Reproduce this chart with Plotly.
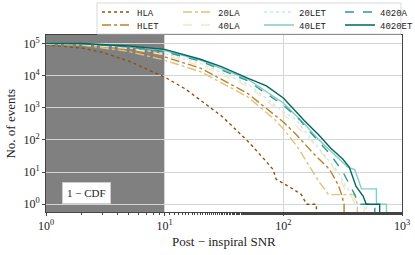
import plotly.graph_objects as go

# ---------------- data ----------------
names = ["HLA", "HLET", "20LA", "40LA", "20LET", "40LET", "4020A", "4020ET"]

hla_snr = [1, 2, 3, 5, 7, 10, 15, 20, 30, 35, 52, 72, 82, 87, 106, 120, 142, 157, 190, 190]
hla_n = [9e4, 7.2e4, 5.2e4, 2.8e4, 1.6e4, 9e3, 3.8e3, 1.7e3, 560, 330, 80, 21, 12, 6, 4, 3, 2, 1, 1, 0.1]

hlet_snr = [1, 2, 5, 10, 20, 50, 100, 130, 178, 246, 290, 310, 325, 325]
hlet_n = [9.6e4, 9.1e4, 6.3e4, 3.8e4, 1.7e4, 2.8e3, 360, 140, 39, 12, 4, 2, 1, 0.1]

la20_snr = [1, 2, 5, 10, 20, 50, 85, 100, 130, 170, 200, 222, 240, 400, 420, 420]
la20_n = [9.5e4, 8.9e4, 5.6e4, 3.0e4, 1.32e4, 2.2e3, 420, 220, 65, 13, 5, 3, 2, 2, 1, 0.1]

la40_snr = [1, 2, 5, 10, 20, 50, 100, 113, 150, 200, 280, 330, 370, 400, 480, 480]
la40_n = [9.8e4, 9.4e4, 6.9e4, 4.4e4, 2.0e4, 4.8e3, 630, 420, 160, 50, 10, 3, 2, 1, 1, 0.1]

let20_snr = [1, 2, 5, 10, 20, 50, 100, 129, 150, 200, 290, 330, 380, 420, 500, 500]
let20_n = [9.9e4, 9.5e4, 7.2e4, 4.8e4, 2.4e4, 5.5e3, 760, 420, 200, 56, 10, 4, 2, 1, 1, 0.1]

let40_snr = [1, 2, 5, 10, 20, 50, 100, 150, 200, 300, 351, 400, 456, 608, 610, 740, 740]
let40_n = [1e5, 9.8e4, 8.1e4, 6.0e4, 3.0e4, 7.8e3, 1.4e3, 320, 100, 24, 14, 12, 3, 3, 1, 1, 0.1]

a4020_snr = [1, 2, 5, 10, 20, 50, 100, 138, 150, 200, 250, 318, 363, 400, 430, 590, 590]
a4020_n = [1e5, 9.7e4, 7.8e4, 5.5e4, 2.8e4, 6.9e3, 1.2e3, 420, 280, 90, 35, 10, 4, 2, 1, 1, 0.1]

et4020_snr = [1, 2, 5, 10, 20, 30, 50, 72, 100, 150, 200, 250, 318, 360, 410, 470, 500, 648, 648]
et4020_n = [1e5, 9.9e4, 8.3e4, 6.5e4, 3.2e4, 1.9e4, 8.3e3, 4.8e3, 2.0e3, 400, 140, 56, 25, 14, 3.6, 1.8, 1, 1, 0.1]

series_x = [hla_snr, hlet_snr, la20_snr, la40_snr, let20_snr, let40_snr, a4020_snr, et4020_snr]
series_y = [hla_n, hlet_n, la20_n, la40_n, let20_n, let40_n, a4020_n, et4020_n]

shade_x = [1, 10]  # shaded SNR band

x_tickvals = [1, 10, 100, 1000]
x_ticktext = ["10<sup>0</sup>", "10<sup>1</sup>", "10<sup>2</sup>", "10<sup>3</sup>"]
y_tickvals = [1, 10, 100, 1000, 10000, 100000]
y_ticktext = ["10<sup>0</sup>", "10<sup>1</sup>", "10<sup>2</sup>", "10<sup>3</sup>",
              "10<sup>4</sup>", "10<sup>5</sup>"]

# ---------------- style ----------------
colors = ["#8c510a", "#bf812d", "#dfc27d", "#f6e8c3", "#c7eae5", "#80cdc1", "#35978f", "#01665e"]
dashes = ["dot", "dashdot", "dashdot", "dash", "dot", "solid", "dash", "solid"]
legend_ids = ["legend", "legend2", "legend", "legend2", "legend", "legend2", "legend", "legend2"]

SERIF = "Liberation Serif"
MONO = "Liberation Mono"

fig = go.Figure()
for nm, xs, ys, c, d, lg in zip(names, series_x, series_y, colors, dashes, legend_ids):
    fig.add_trace(go.Scatter(
        x=xs, y=ys, mode="lines", name=nm, legend=lg,
        line=dict(color=c, dash=d, width=1.4),
    ))

fig.add_vrect(x0=shade_x[0], x1=shade_x[1], fillcolor="#808080",
              line_width=0, layer="below")

fig.add_annotation(xref="paper", yref="paper", x=0.114, y=0.107,
                   xanchor="center", yanchor="middle",
                   text="1 − CDF", showarrow=False,
                   font=dict(family=SERIF, size=11, color="#222"),
                   bgcolor="white", bordercolor="#cccccc", borderwidth=1, borderpad=4)

# axis titles
fig.add_annotation(xref="paper", yref="paper", x=0.5, y=-0.169,
                   xanchor="center", yanchor="middle", showarrow=False,
                   text="Post − inspiral SNR",
                   font=dict(family=SERIF, size=13, color="#222"))
fig.add_annotation(xref="paper", yref="paper", x=-0.101, y=0.5,
                   xanchor="center", yanchor="middle", showarrow=False, textangle=-90,
                   text="No. of events",
                   font=dict(family=SERIF, size=13, color="#222"))

# legend frame (both legend rows share it)
fig.add_shape(type="rect", xref="paper", yref="paper",
              x0=0.1433, x1=0.9972, y0=1.0056, y1=1.1808,
              fillcolor="white", line=dict(color="#d8d8d8", width=1), layer="above")

axis_common = dict(
    type="log", showline=True, linecolor="#444", linewidth=1, mirror=True,
    showgrid=True, gridcolor="#d4d4d4", gridwidth=1,
    ticks="outside", ticklen=3, tickcolor="#444",
    tickfont=dict(family=SERIF, size=12, color="#222"),
    zeroline=False, automargin=False,
)

fig.update_xaxes(**axis_common, range=[0, 3], tickvals=x_tickvals, ticktext=x_ticktext,
                 minor=dict(ticks="outside", ticklen=2, tickcolor="#444", showgrid=False))
fig.update_yaxes(**axis_common, range=[-0.24, 5.26], tickvals=y_tickvals, ticktext=y_ticktext)

leg_common = dict(orientation="h", xref="container", yref="container",
                  x=97 / 415, xanchor="left", yanchor="middle",
                  entrywidth=36, entrywidthmode="pixels",
                  font=dict(family=MONO, size=9, color="#222"),
                  bgcolor="rgba(0,0,0,0)", borderwidth=0, itemwidth=30)

fig.update_layout(
    width=415, height=255,
    margin=dict(l=46, r=13, t=35, b=43, autoexpand=False),
    plot_bgcolor="white", paper_bgcolor="white",
    legend=dict(**leg_common, y=1 - 12 / 255),
    legend2=dict(**leg_common, y=1 - 25 / 255),
    showlegend=True,
)

fig.write_html("out.html", config={"displayModeBar": False},
               post_script="document.body.style.margin='0';")
